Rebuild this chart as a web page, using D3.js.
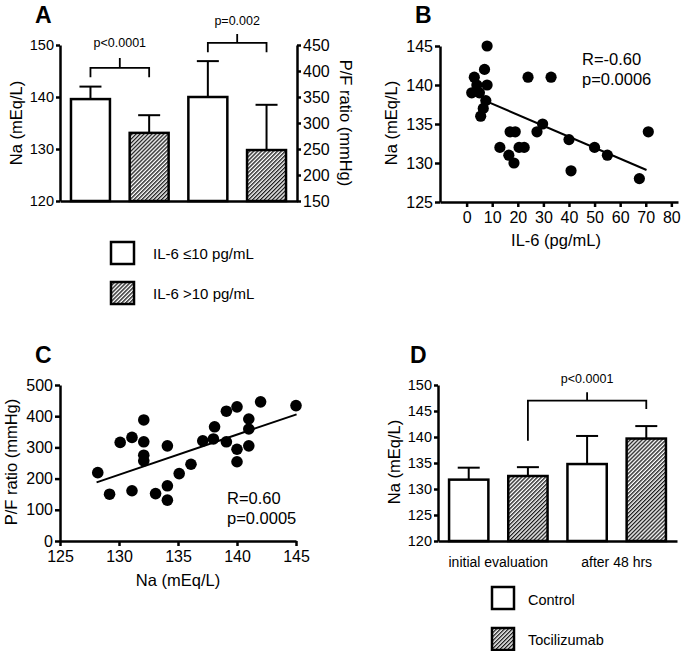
<!DOCTYPE html>
<html>
<head>
<meta charset="utf-8">
<script src="https://cdn.jsdelivr.net/npm/d3@7/dist/d3.min.js"></script>
<style>
  body { margin: 0; background: #fff; }
  svg { font-family: Arial, "Liberation Sans", sans-serif; }
  .axis path, .axis line { stroke: #000; stroke-width: 2.5; }
  .axis text { fill: #000; font-family: Arial, "Liberation Sans", sans-serif; }
</style>
</head>
<body>
<svg width="685" height="651"></svg>
<script>
// ---- data ----
// A: Na and P/F by IL-6 group (mean, mean+SD)
var aGroups = ["IL-6 ≤10 pg/mL", "IL-6 >10 pg/mL"];
var aNa = [139.6, 133.1], aNaErr = [142.0, 136.5];
var aPF = [350, 248], aPFErr = [419, 335];
var aNaTicks = [120, 130, 140, 150];
var aPFTicks = [150, 200, 250, 300, 350, 400, 450];

// B: Na vs IL-6
var bIL6 = [8, 7, 3, 8, 4, 2, 5, 7.5, 6.5, 5.5, 24, 33, 13, 16.5, 17, 19, 18.5, 20.5, 22.5, 27.5, 29.7, 40, 40.8, 50, 55, 67.5, 71];
var bNa  = [145, 142, 141, 140, 140, 139, 139, 138, 137, 136, 141, 141, 132, 131, 134, 134, 130, 132, 132, 134, 135, 133, 129, 132, 131, 128, 134];
var bFitX = [7.8, 70.3], bFitY = [137.9, 129.1];
var bTicksX = [0, 10, 20, 30, 40, 50, 60, 70, 80];
var bTicksY = [125, 130, 135, 140, 145];

// C: P/F vs Na
var cNa = [128.2, 129.2, 130.1, 131.1, 131.1, 132.1, 132.1, 132.1, 132.1, 133.1, 134.1, 134.1, 134.1, 135.1, 136.1, 137.1, 138, 138.1, 139.1, 139.1, 140, 140, 140, 141, 141, 141, 142, 145];
var cPF = [219, 150, 316, 332, 161, 388, 318, 275, 257, 152, 305, 177, 131, 216, 246, 321, 327, 366, 318, 416, 430, 294, 254, 391, 359, 305, 446, 434];
var cFitX = [128.1, 145.05], cFitY = [188, 406];
var cTicksX = [125, 130, 135, 140, 145];
var cTicksY = [0, 100, 200, 300, 400, 500];

// D: Na before/after, control vs tocilizumab
var dGroups = ["initial evaluation", "after 48 hrs"];
var dSeries = ["Control", "Tocilizumab"];
var dMean = [131.8, 132.5, 134.8, 139.7];
var dErr  = [134.1, 134.2, 140.2, 142.1];
var dTicksY = [120, 125, 130, 135, 140, 145, 150];

// ---- setup ----
var svg = d3.select("svg");
var defs = svg.append("defs");
defs.append("pattern")
    .attr("id", "hatch")
    .attr("patternUnits", "userSpaceOnUse")
    .attr("width", 2.8).attr("height", 2.8)
    .attr("patternTransform", "rotate(45)")
  .call(function(p) {
    p.append("rect").attr("width", 2.8).attr("height", 2.8).attr("fill", "#fff");
    p.append("line").attr("x1", 0.7).attr("y1", 0).attr("x2", 0.7).attr("y2", 2.8)
      .attr("stroke", "#000").attr("stroke-width", 1.2);
  });

function fillFor(i) { return i % 2 ? "url(#hatch)" : "#fff"; }

function styleAxis(g, size) {
  g.attr("class", "axis");
  g.selectAll("text").attr("font-size", size);
}

function label(txt, x, y, size, opts) {
  opts = opts || {};
  var t = svg.append("text").attr("x", x).attr("y", y)
    .attr("font-size", size).attr("text-anchor", opts.anchor || "start")
    .attr("font-weight", opts.bold ? "bold" : "normal").text(txt);
  if (opts.rotate) t.attr("transform", "rotate(" + opts.rotate + "," + x + "," + y + ")");
  return t;
}

function bracket(x1, x2, yh, y1, y2, ytop, xmid) {
  svg.append("path")
    .attr("d", "M" + x1 + "," + y1 + "V" + yh + "H" + x2 + "V" + y2 + "M" + xmid + "," + yh + "V" + ytop)
    .attr("fill", "none").attr("stroke", "#000").attr("stroke-width", 1.8);
}

function bars(g, xs, keys, vals, errs, yScale) {
  keys.forEach(function(k, i) {
    var x = xs(k), w = xs.bandwidth(), cx = x + w / 2;
    g.append("line").attr("x1", cx).attr("x2", cx)
      .attr("y1", yScale(vals[i])).attr("y2", yScale(errs[i]))
      .attr("stroke", "#000").attr("stroke-width", 2);
    g.append("line").attr("x1", cx - 11).attr("x2", cx + 11)
      .attr("y1", yScale(errs[i])).attr("y2", yScale(errs[i]))
      .attr("stroke", "#000").attr("stroke-width", 2);
    g.append("rect").attr("x", x).attr("y", yScale(vals[i]))
      .attr("width", w).attr("height", yScale.range()[0] - yScale(vals[i]))
      .attr("fill", fillFor(i)).attr("stroke", "#000").attr("stroke-width", 2.5);
  });
}

// ---- panel A ----
var aKeys = ["na0", "na1", "pf0", "pf1"];
var xA = d3.scaleBand().domain(aKeys).range([60, 297]).paddingInner(0.336).paddingOuter(0.187);
var yNa = d3.scaleLinear().domain([120, 150]).range([201, 45]);
var yPF = d3.scaleLinear().domain([150, 450]).range([201, 45]);
var gA = svg.append("g");
bars(gA, xA, aKeys.slice(0, 2), aNa, aNaErr, yNa);
bars(gA, xA, aKeys.slice(2), aPF, aPFErr, yPF);

svg.append("g").attr("transform", "translate(0,201)")
  .call(d3.axisBottom(xA).tickSize(0).tickFormat(""))
  .call(styleAxis, 14);
svg.append("g").attr("transform", "translate(60,0)")
  .call(d3.axisLeft(yNa).tickValues(aNaTicks).tickSize(4).tickSizeOuter(0).tickPadding(2))
  .call(styleAxis, 14.5);
svg.append("g").attr("transform", "translate(297,0)")
  .call(d3.axisRight(yPF).tickValues(aPFTicks).tickSize(4).tickSizeOuter(0).tickPadding(2))
  .call(styleAxis, 16);

function mid(k) { return xA(k) + xA.bandwidth() / 2; }
bracket(mid("na0"), mid("na1"), yNa(145.6), yNa(143.8), yNa(143.8), yNa(147.5), (mid("na0") + mid("na1")) / 2);
label("p<0.0001", (mid("na0") + mid("na1")) / 2, 47, 12.5, { anchor: "middle" });
bracket(mid("pf0"), mid("pf1"), yNa(150.4), yNa(148.6), yNa(148.6), yNa(152.1), (mid("pf0") + mid("pf1")) / 2);
label("p=0.002", (mid("pf0") + mid("pf1")) / 2, 25, 12.5, { anchor: "middle" });

label("A", 35, 23, 23, { bold: true });
label("Na (mEq/L)", 22, 123, 16.5, { anchor: "middle", rotate: -90 });
label("P/F ratio (mmHg)", 340, 123, 16.5, { anchor: "middle", rotate: 90 });

aGroups.forEach(function(name, i) {
  svg.append("rect").attr("x", 111).attr("y", 242 + i * 40).attr("width", 23).attr("height", 22)
    .attr("fill", fillFor(i)).attr("stroke", "#000").attr("stroke-width", 2.5);
  label(name, 153, 259 + i * 40, 15);
});

// ---- panel B ----
var xB = d3.scaleLinear().domain([-10.4, 82.6]).range([440, 678]);
var yB = d3.scaleLinear().domain([125, 145]).range([202, 46]);
svg.append("g").attr("transform", "translate(0,202)")
  .call(d3.axisBottom(xB).tickValues(bTicksX).tickSize(5).tickSizeOuter(0).tickPadding(5))
  .call(styleAxis, 16);
svg.append("g").attr("transform", "translate(440,0)")
  .call(d3.axisLeft(yB).tickValues(bTicksY).tickSize(5).tickSizeOuter(0).tickPadding(2))
  .call(styleAxis, 16);
svg.append("line")
  .attr("x1", xB(bFitX[0])).attr("y1", yB(bFitY[0]))
  .attr("x2", xB(bFitX[1])).attr("y2", yB(bFitY[1]))
  .attr("stroke", "#000").attr("stroke-width", 2);
svg.append("g").selectAll("circle").data(bIL6).enter().append("circle")
  .attr("cx", function(d) { return xB(d); })
  .attr("cy", function(d, i) { return yB(bNa[i]); })
  .attr("r", 5.6).attr("fill", "#000");
label("B", 415, 23, 23, { bold: true });
label("R=-0.60", 582, 65, 16.5);
label("p=0.0006", 582, 85, 16.5);
label("Na (mEq/L)", 397, 123, 16.5, { anchor: "middle", rotate: -90 });
label("IL-6 (pg/mL)", 556, 246, 16.5, { anchor: "middle" });

// ---- panel C ----
var xC = d3.scaleLinear().domain([125, 145]).range([60, 296]);
var yC = d3.scaleLinear().domain([0, 500]).range([541, 385]);
svg.append("g").attr("transform", "translate(0,541)")
  .call(d3.axisBottom(xC).tickValues(cTicksX).tickSize(5).tickSizeOuter(0).tickPadding(5))
  .call(styleAxis, 16);
svg.append("g").attr("transform", "translate(60,0)")
  .call(d3.axisLeft(yC).tickValues(cTicksY).tickSize(5).tickSizeOuter(0).tickPadding(2))
  .call(styleAxis, 16);
svg.append("line")
  .attr("x1", xC(cFitX[0])).attr("y1", yC(cFitY[0]))
  .attr("x2", xC(cFitX[1])).attr("y2", yC(cFitY[1]))
  .attr("stroke", "#000").attr("stroke-width", 2);
svg.append("g").selectAll("circle").data(cNa).enter().append("circle")
  .attr("cx", function(d) { return xC(d); })
  .attr("cy", function(d, i) { return yC(cPF[i]); })
  .attr("r", 5.8).attr("fill", "#000");
label("C", 35, 363, 23, { bold: true });
label("R=0.60", 227, 504, 16.5);
label("p=0.0005", 227, 524, 16.5);
label("P/F ratio (mmHg)", 17, 462, 16.5, { anchor: "middle", rotate: -90 });
label("Na (mEq/L)", 178, 586, 16.5, { anchor: "middle" });

// ---- panel D ----
var dKeys = ["c0", "t0", "c1", "t1"];
var xD = d3.scaleBand().domain(dKeys).range([438, 677]).paddingInner(0.336).paddingOuter(0.187);
var yD = d3.scaleLinear().domain([120, 150]).range([541, 385]);
var gD = svg.append("g");
bars(gD, xD, dKeys, dMean, dErr, yD);
svg.append("g").attr("transform", "translate(0,541)")
  .call(d3.axisBottom(xD).tickSize(0).tickFormat(""))
  .call(styleAxis, 14);
svg.append("g").attr("transform", "translate(438,0)")
  .call(d3.axisLeft(yD).tickValues(dTicksY).tickSize(4).tickSizeOuter(0).tickPadding(2))
  .call(styleAxis, 14.5);

function midD(k) { return xD(k) + xD.bandwidth() / 2; }
bracket(midD("t0"), midD("t1"), yD(147), yD(139.3), yD(145.4), yD(148.6), (midD("t0") + midD("t1")) / 2);
label("p<0.0001", (midD("t0") + midD("t1")) / 2, 383, 12.5, { anchor: "middle" });

dGroups.forEach(function(g, i) {
  var cx = (midD(dKeys[i * 2]) + midD(dKeys[i * 2 + 1])) / 2;
  label(g, cx, 567, 14, { anchor: "middle" });
});
dSeries.forEach(function(name, i) {
  svg.append("rect").attr("x", 492).attr("y", 587 + i * 41).attr("width", 22).attr("height", 22)
    .attr("fill", fillFor(i)).attr("stroke", "#000").attr("stroke-width", 2.5);
  label(name, 528, 605 + i * 40, 14.5);
});
label("D", 410, 363, 23, { bold: true });
label("Na (mEq/L)", 400, 462, 16.5, { anchor: "middle", rotate: -90 });
</script>
</body>
</html>
